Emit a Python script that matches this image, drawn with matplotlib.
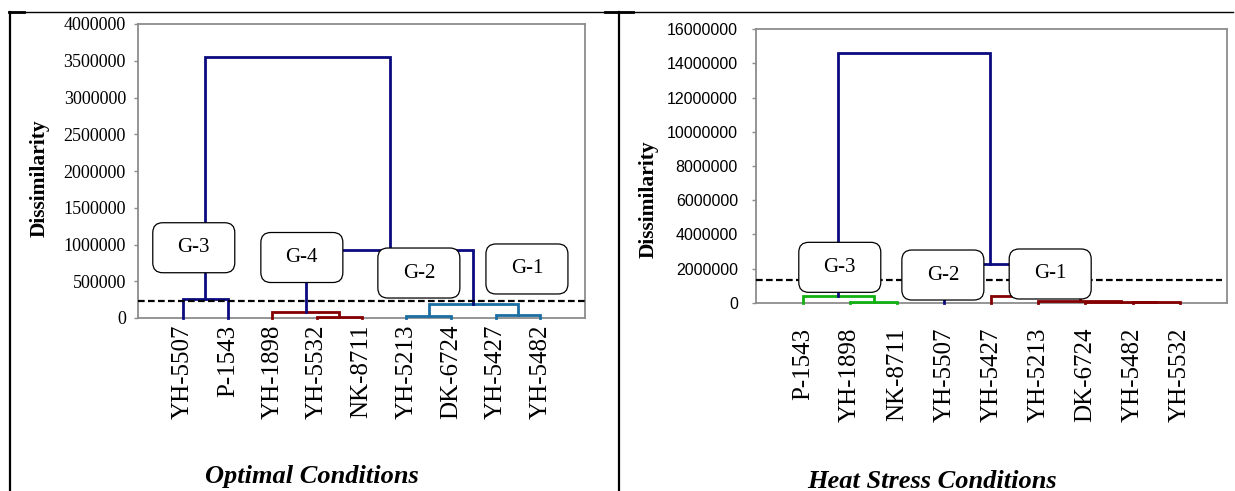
import matplotlib
matplotlib.use('Agg')
import matplotlib.pyplot as plt
from matplotlib.patches import FancyBboxPatch
from matplotlib.lines import Line2D
from matplotlib.transforms import IdentityTransform

W, H = 1235, 491

# optimal conditions dendrogram: leaves left to right, merges as (node_a, node_b, height)
opt_leaves = ["YH-5507", "P-1543", "YH-1898", "YH-5532", "NK-8711",
              "YH-5213", "DK-6724", "YH-5427", "YH-5482"]
opt_merges = [(3, 4, 18000), (2, 9, 85000), (5, 6, 27000), (7, 8, 40000),
              (11, 12, 195000), (0, 1, 255000), (10, 13, 930000), (14, 15, 3550000)]
opt_merge_group = ["red", "red", "blue", "blue", "blue", "navy", "navy", "navy"]
opt_cut = 230000
opt_groups = ["G-3", "G-4", "G-2", "G-1"]
opt_group_x = [1.24, 3.66, 6.28, 8.70]
opt_group_y = [956000, 823000, 612000, 667000]
opt_yticks = list(range(0, 4000001, 500000))

# heat stress dendrogram
heat_leaves = ["P-1543", "YH-1898", "NK-8711", "YH-5507", "YH-5427",
               "YH-5213", "DK-6724", "YH-5482", "YH-5532"]
heat_merges = [(1, 2, 60000), (0, 9, 380000), (7, 8, 20000), (6, 11, 50000),
               (5, 12, 100000), (4, 13, 410000), (3, 14, 2260000), (10, 15, 14600000)]
heat_merge_group = ["green", "green", "red", "red", "red", "red", "navy", "navy"]
heat_cut = 1330000
heat_groups = ["G-3", "G-2", "G-1"]
heat_group_x = [1.78, 3.97, 6.25]
heat_group_y = [2070000, 1620000, 1680000]
heat_yticks = list(range(0, 16000001, 2000000))

colors = {"navy": "#0b0b80", "red": "#840000", "blue": "#1b6ea3", "green": "#12b012"}
SERIF = "Liberation Serif"


def draw_dendro(ax, leaves, merges, groups):
    xs = {i: i + 1 for i in range(len(leaves))}
    hs = {i: 0 for i in range(len(leaves))}
    node = len(leaves)
    for (a, b, h), g in zip(merges, groups):
        ax.plot([xs[a], xs[a], xs[b], xs[b]], [hs[a], h, h, hs[b]],
                color=colors[g], lw=2.0, zorder=3, clip_on=False,
                solid_joinstyle='miter')
        xs[node] = (xs[a] + xs[b]) / 2
        hs[node] = h
        node += 1


def group_box(ax, x, y, label):
    cx, cy = ax.transData.transform((x, y))
    box = FancyBboxPatch((cx - 41, cy - 25), 82, 50,
                         boxstyle='round,pad=0,rounding_size=10',
                         transform=IdentityTransform(), fc='white', ec='black',
                         lw=0.9, zorder=4, clip_on=False)
    ax.add_artist(box)
    ax.text(x, y, label, ha='center', va='center', fontsize=15,
            family=SERIF, zorder=5)


def setup(ax, leaves, yticks, ylim, tick_font, tick_size, ypad, xpad):
    ax.set_xlim(0, 10)
    ax.set_ylim(0, ylim)
    ax.set_xticks(range(1, len(leaves) + 1))
    ax.set_xticklabels(leaves, rotation=90, fontsize=18, family=SERIF)
    ax.tick_params(axis='x', length=0, pad=xpad)
    ax.set_yticks(yticks)
    ax.set_yticklabels([str(v) for v in yticks], fontsize=tick_size, family=tick_font)
    ax.tick_params(axis='y', length=3, width=1, color='#8c8c8c', pad=ypad)
    for s in ax.spines.values():
        s.set_color('#8c8c8c')
        s.set_linewidth(1.3)


fig = plt.figure(figsize=(W / 100, H / 100), dpi=100)

ax1 = fig.add_axes([138.4 / W, 1 - 318 / H, 446.6 / W, 294 / H])
setup(ax1, opt_leaves, opt_yticks, 4000000, SERIF, 13, 6, 5)
draw_dendro(ax1, opt_leaves, opt_merges, opt_merge_group)
ax1.axhline(opt_cut, color='black', lw=1.6, ls=(0, (3, 1.5)), zorder=3.5)
ax1.set_ylabel("Dissimilarity", fontsize=15.5, fontweight='bold', family=SERIF)
ax1.yaxis.set_label_coords(-0.199, 0.476)
for g, x, y in zip(opt_groups, opt_group_x, opt_group_y):
    group_box(ax1, x, y, g)

ax2 = fig.add_axes([756 / W, 1 - 302.7 / H, 470.7 / W, 273.4 / H])
setup(ax2, heat_leaves, heat_yticks, 16000000, "Liberation Sans", 11.5, 10, 18)
draw_dendro(ax2, heat_leaves, heat_merges, heat_merge_group)
ax2.axhline(heat_cut, xmax=0.99, color='black', lw=1.6, ls=(0, (3, 1.5)), zorder=3.5)
ax2.set_ylabel("Dissimilarity", fontsize=15.5, fontweight='bold', family=SERIF)
ax2.yaxis.set_label_coords(-0.207, 0.379)
for g, x, y in zip(heat_groups, heat_group_x, heat_group_y):
    group_box(ax2, x, y, g)

fig.text(312 / W, 1 - 477 / H, "Optimal Conditions", ha='center', va='center',
         fontsize=19, fontweight='bold', fontstyle='italic', family=SERIF)
fig.text(932 / W, 1 - 481 / H, "Heat Stress Conditions", ha='center', va='center',
         fontsize=19, fontweight='bold', fontstyle='italic', family=SERIF)

# table borders around the two panels
top = 1 - 12 / H
fig.add_artist(Line2D([9 / W, 1233 / W], [top, top], color='black', lw=1.0))
fig.add_artist(Line2D([9 / W, 24 / W], [top, top], color='black', lw=2.0))
fig.add_artist(Line2D([605 / W, 633 / W], [top, top], color='black', lw=2.0))
fig.add_artist(Line2D([10 / W, 10 / W], [0, top], color='black', lw=1.6))
fig.add_artist(Line2D([619 / W, 619 / W], [0, top], color='black', lw=1.6))

fig.savefig("out.png", dpi=100)
